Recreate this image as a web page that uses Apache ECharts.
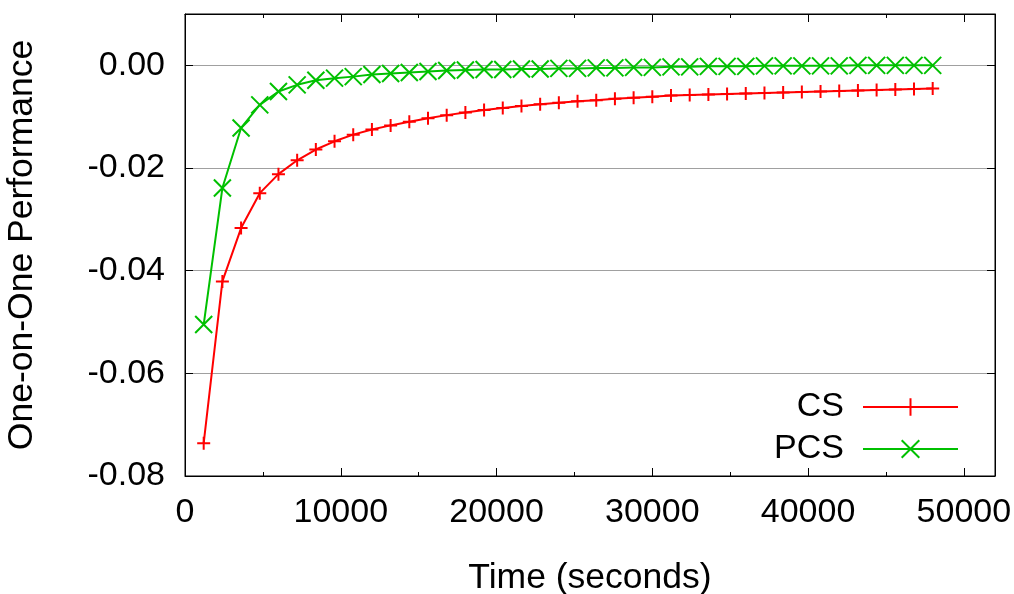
<!DOCTYPE html>
<html>
<head>
<meta charset="utf-8">
<script src="https://cdn.jsdelivr.net/npm/echarts@6/dist/echarts.min.js"></script>
<style>html,body{margin:0;padding:0;background:#fff}#c{width:1014px;height:594px}</style>
</head>
<body>
<div id="c"></div>
<script>
const times = [1200, 2400, 3600, 4800, 6000, 7200, 8400, 9600, 10800, 12000,
  13200, 14400, 15600, 16800, 18000, 19200, 20400, 21600, 22800, 24000,
  25200, 26400, 27600, 28800, 30000, 31200, 32400, 33600, 34800, 36000,
  37200, 38400, 39600, 40800, 42000, 43200, 44400, 45600, 46800, 48000];
const csValues = [-0.0736, -0.0421, -0.0317, -0.0249, -0.0212, -0.0185, -0.0164, -0.0148, -0.0135, -0.0125,
  -0.0117, -0.0110, -0.0103, -0.0097, -0.0092, -0.0087, -0.0083, -0.0079, -0.0076, -0.0073,
  -0.0070, -0.0068, -0.0065, -0.0063, -0.0061, -0.0059, -0.0058, -0.0057, -0.0056, -0.0055,
  -0.0054, -0.0053, -0.0052, -0.0051, -0.0050, -0.0049, -0.0048, -0.0047, -0.0046, -0.0045];
const pcsValues = [-0.0505, -0.0239, -0.0122, -0.0077, -0.0051, -0.0038, -0.0029, -0.0025, -0.0022, -0.0018,
  -0.0016, -0.0014, -0.0012, -0.0010, -0.0009, -0.0008, -0.0008, -0.0007, -0.0007, -0.0006,
  -0.0006, -0.0005, -0.0005, -0.0004, -0.0004, -0.0003, -0.0003, -0.0002, -0.0002, -0.0002,
  -0.0001, -0.0001, -0.0001, -0.0001, -0.0001, 0.0000, 0.0000, 0.0000, 0.0000, 0.0000];
const seriesNames = ['CS', 'PCS'];
const xTitle = 'Time (seconds)';
const yTitle = 'One-on-One Performance';

const FONT = "'Liberation Sans', Arial, sans-serif";
const plusPath = 'path://M5,0 L5,10 M0,5 L10,5';
const crossPath = 'path://M0,0 L10,10 M10,0 L0,10';

const chart = echarts.init(document.getElementById('c'), null, {renderer: 'canvas'});
const xCommon = {type: 'value', min: 0, max: 52000, interval: 10000};
const yCommon = {type: 'value', min: -0.08, max: 0.01, interval: 0.02};
const blackLine = {show: true, onZero: false, lineStyle: {color: '#000', width: 1}};
chart.setOption({
  animation: false,
  backgroundColor: '#fff',
  grid: {left: 185, right: 19, top: 14, bottom: 118, containLabel: false, outerBoundsMode: 'none',
    show: true, borderColor: '#000', borderWidth: 1, backgroundColor: 'transparent'},
  legend: {
    orient: 'vertical', right: 50, top: 385, align: 'right',
    itemWidth: 95, itemHeight: 22, itemGap: 8,
    textStyle: {fontFamily: FONT, fontSize: 34, color: '#000', padding: [0, 14, 0, 0]},
    data: seriesNames
  },
  xAxis: [
    Object.assign({}, xCommon, {
      position: 'bottom',
      name: xTitle, nameLocation: 'middle', nameGap: 84,
      nameTextStyle: {fontFamily: FONT, fontSize: 35.5, color: '#000'},
      axisLine: blackLine,
      axisTick: {show: true, inside: true, length: 8, lineStyle: {color: '#000'}},
      minorTick: {show: true, splitNumber: 2, length: 4, lineStyle: {color: '#000'}},
      axisLabel: {fontFamily: FONT, fontSize: 34, color: '#000', margin: 20, showMaxLabel: false,
        formatter: v => String(v)},
      splitLine: {show: false}
    }),
    Object.assign({}, xCommon, {
      position: 'top',
      axisLine: blackLine,
      axisTick: {show: true, inside: true, length: 8, lineStyle: {color: '#000'}},
      minorTick: {show: true, splitNumber: 2, length: 4, lineStyle: {color: '#000'}},
      axisLabel: {show: false},
      splitLine: {show: false}
    })
  ],
  yAxis: [
    Object.assign({}, yCommon, {
      position: 'left',
      name: yTitle, nameLocation: 'middle', nameGap: 145, nameRotate: 90,
      nameTextStyle: {fontFamily: FONT, fontSize: 35.5, color: '#000'},
      axisLine: blackLine,
      axisTick: {show: true, inside: true, length: 8, lineStyle: {color: '#000'}},
      axisLabel: {fontFamily: FONT, fontSize: 34, color: '#000', margin: 20, showMaxLabel: false,
        formatter: v => (Math.abs(v) < 1e-9 ? 0 : v).toFixed(2)},
      splitLine: {show: true, lineStyle: {color: '#a0a0a0', width: 1}}
    }),
    Object.assign({}, yCommon, {
      position: 'right',
      axisLine: blackLine,
      axisTick: {show: true, inside: true, length: 8, lineStyle: {color: '#000'}},
      axisLabel: {show: false},
      splitLine: {show: false}
    })
  ],
  series: [
    {
      name: seriesNames[0], type: 'line', xAxisIndex: 0, yAxisIndex: 0,
      data: times.map((t, i) => [t, csValues[i]]),
      symbol: plusPath, symbolSize: 13, showAllSymbol: true,
      lineStyle: {color: '#ff0000', width: 2},
      itemStyle: {color: '#ff0000', borderColor: '#ff0000', borderWidth: 2},
      emphasis: {disabled: true}
    },
    {
      name: seriesNames[1], type: 'line', xAxisIndex: 0, yAxisIndex: 0,
      data: times.map((t, i) => [t, pcsValues[i]]),
      symbol: crossPath, symbolSize: 17, showAllSymbol: true,
      lineStyle: {color: '#00c000', width: 2},
      itemStyle: {color: '#00c000', borderColor: '#00c000', borderWidth: 2},
      emphasis: {disabled: true}
    }
  ]
});
</script>
</body>
</html>
